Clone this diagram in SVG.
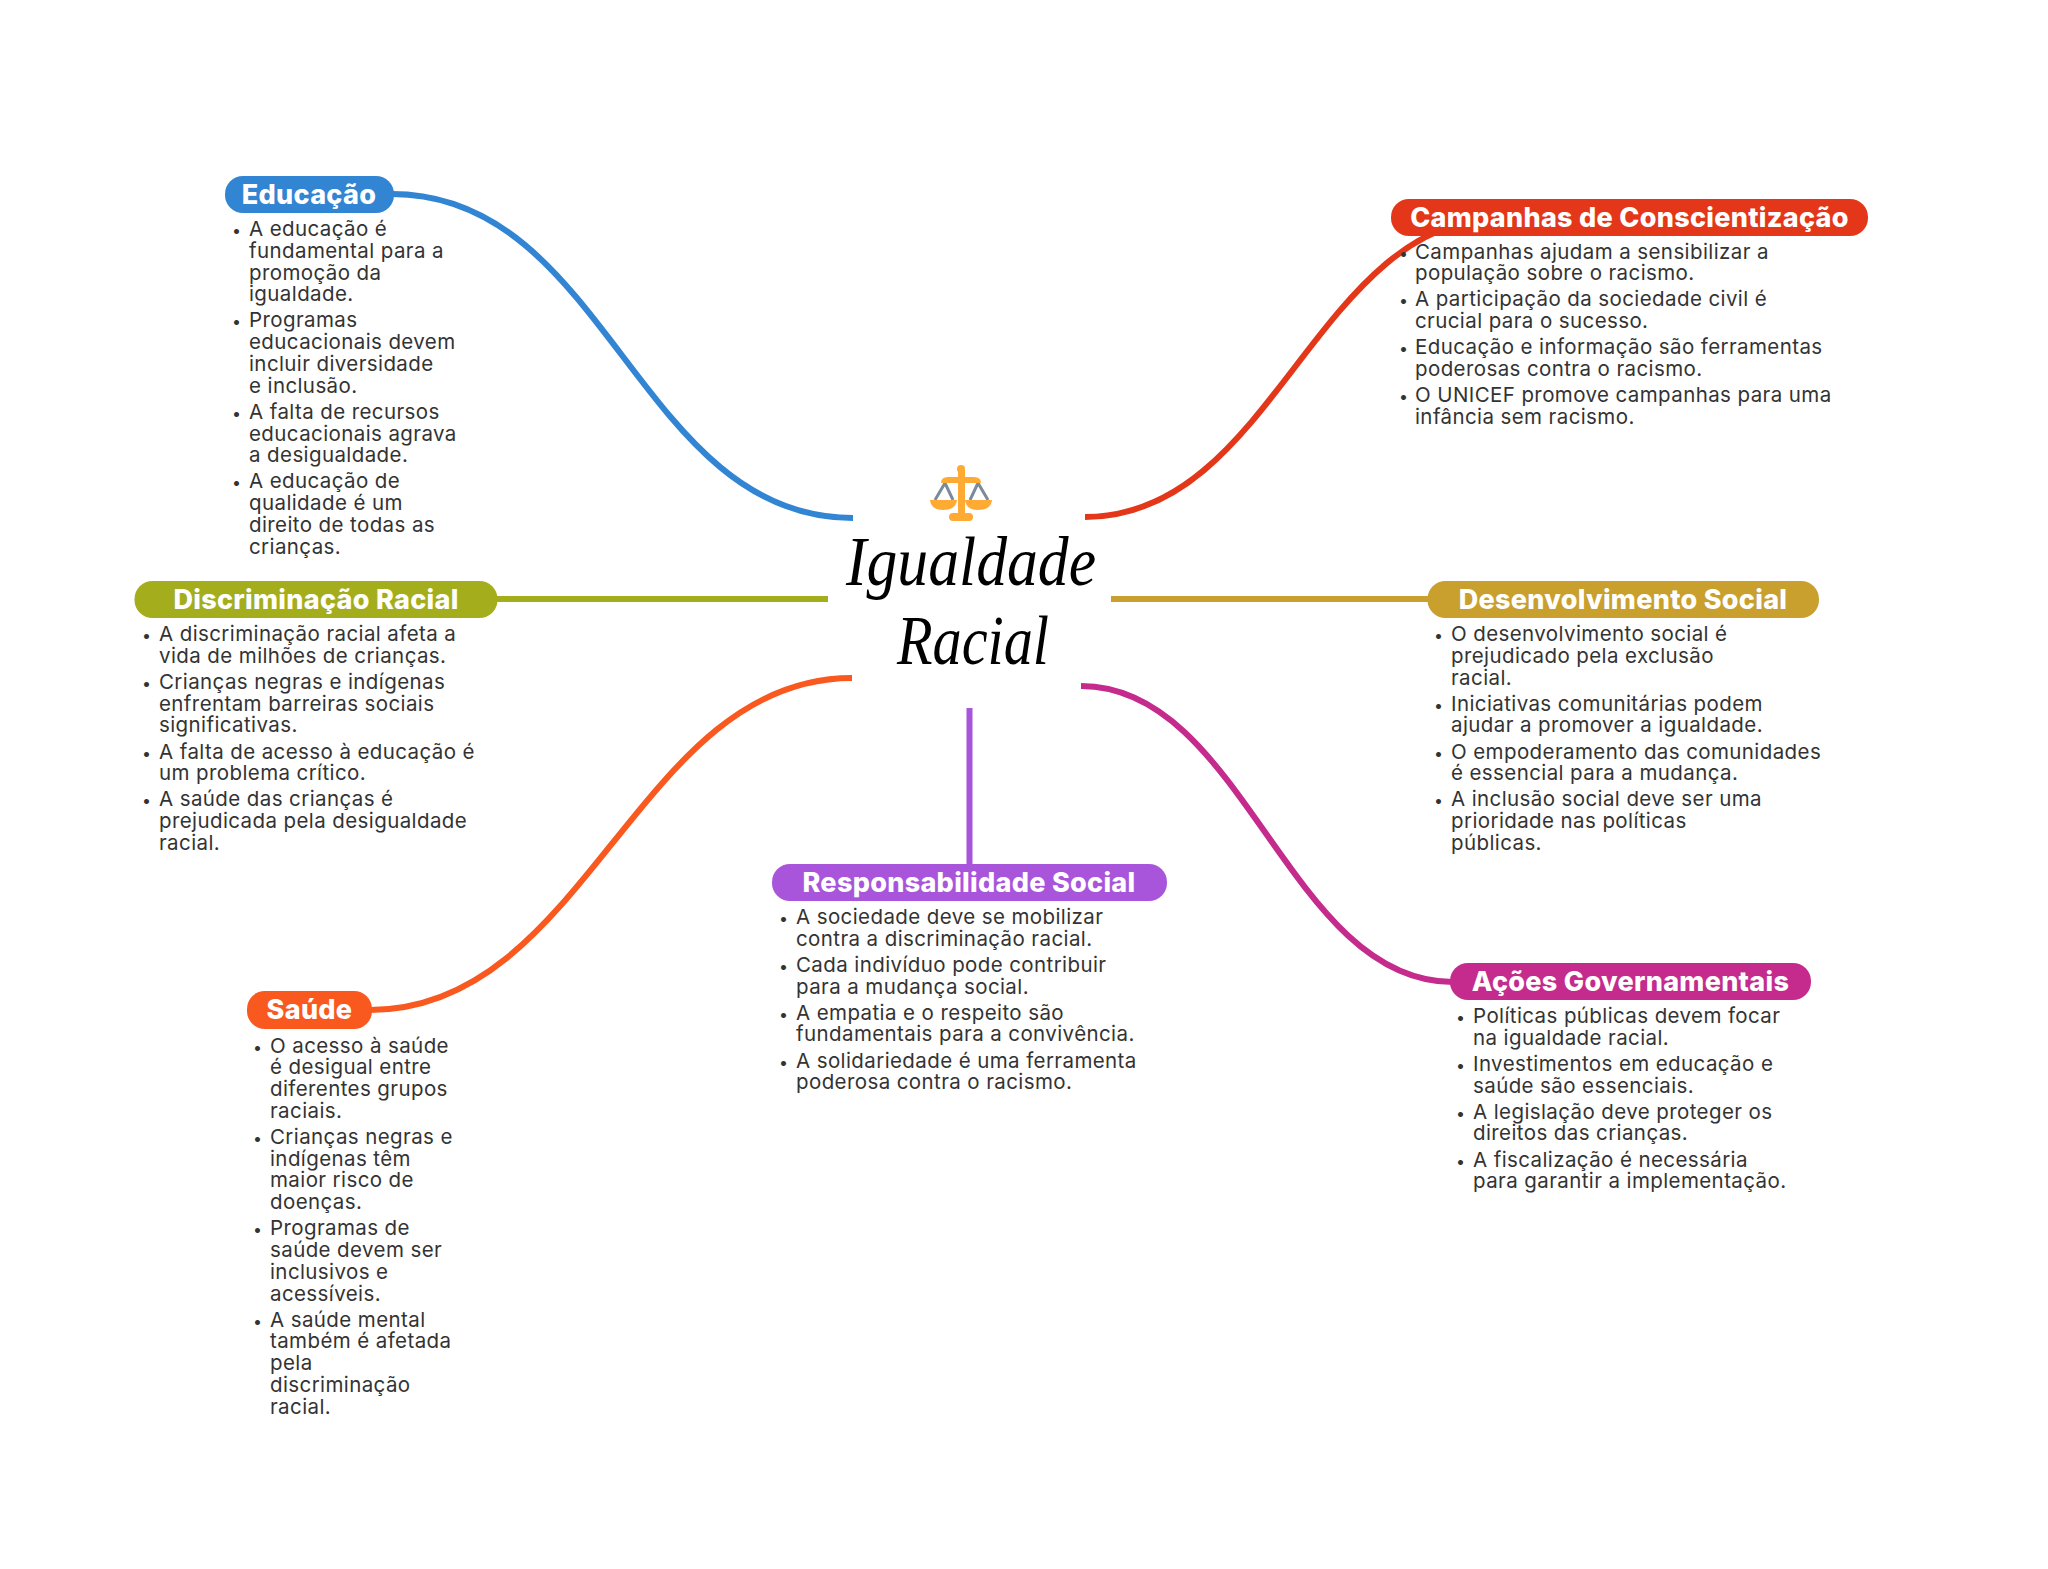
<svg xmlns="http://www.w3.org/2000/svg" width="2048" height="1569" viewBox="0 0 2048 1569">
<style>
.c{fill:none;stroke-width:6}
.t{font-family:"Inter","Noto Sans",sans-serif;font-size:20.500px;letter-spacing:.4px;fill:#333}
.b{font-family:"Inter","Noto Sans",sans-serif;font-size:16px;fill:#333}
.h{font-family:"Inter","Noto Sans",sans-serif;font-size:27px;font-weight:800;letter-spacing:.3px;fill:#fff;text-anchor:middle}
.r{font-family:"Liberation Serif",serif;font-style:italic;font-size:70px;fill:#000;text-anchor:middle}
</style>
<rect width="2048" height="1569" fill="#fff"/>
<g id="connectors">
<path class="c" stroke="#3185d3" d="M392 194C607 194 638 518 853 518"/>
<path class="c" stroke="#e43719" d="M1085 517C1275 517 1315 217 1505 217"/>
<path class="c" stroke="#a4ae1d" d="M495 599H828"/>
<path class="c" stroke="#c9a02e" d="M1111 599H1430"/>
<path class="c" stroke="#f9591f" d="M852 678C637 678 587 1010 370 1010"/>
<path class="c" stroke="#a855dc" d="M969.500 708V866"/>
<path class="c" stroke="#c42b8c" d="M1081 686C1244 686 1288 982 1453 982"/>
</g>
<g id="center">
<text class="r" x="971" y="585" textLength="250" lengthAdjust="spacingAndGlyphs">Igualdade</text>
<text class="r" x="973" y="664" textLength="152" lengthAdjust="spacingAndGlyphs">Racial</text>
<g id="icon">
<g stroke="#7a8b99" stroke-width="3" fill="none"><path d="M935 500L945 483L953 500M970 500L978 483L988 500"/></g>
<g fill="#ffaa33">
<rect x="958" y="470" width="7" height="45"/><circle cx="961" cy="469" r="4"/>
<path d="M941 483Q941 477 948 477H974Q981 477 981 483Z"/>
<path d="M930 500H957Q956 510 943 510Q931 510 930 500Z"/>
<path d="M965 500H992Q991 510 978 510Q966 510 965 500Z"/>
<rect x="949" y="513" width="24" height="8" rx="4"/>
</g></g>
</g>
<g id="educacao">
<rect x="225" y="176" width="169" height="37" rx="18" fill="#3185d3"/><text class="h" x="309" y="204">Educação</text>
<text class="b" x="232" y="236">•</text><text class="t" y="236"><tspan x="249">A educação é</tspan><tspan x="249" dy="21.770">fundamental para a</tspan><tspan x="249" dy="21.770">promoção da</tspan><tspan x="249" dy="21.770">igualdade.</tspan></text>
<text class="b" x="232" y="327.400">•</text><text class="t" y="327.400"><tspan x="249">Programas</tspan><tspan x="249" dy="21.770">educacionais devem</tspan><tspan x="249" dy="21.770">incluir diversidade</tspan><tspan x="249" dy="21.770">e inclusão.</tspan></text>
<text class="b" x="232" y="418.800">•</text><text class="t" y="418.800"><tspan x="249">A falta de recursos</tspan><tspan x="249" dy="21.770">educacionais agrava</tspan><tspan x="249" dy="21.770">a desigualdade.</tspan></text>
<text class="b" x="232" y="488.400">•</text><text class="t" y="488.400"><tspan x="249">A educação de</tspan><tspan x="249" dy="21.770">qualidade é um</tspan><tspan x="249" dy="21.770">direito de todas as</tspan><tspan x="249" dy="21.770">crianças.</tspan></text>
</g>
<g id="campanhas">
<rect x="1391" y="199" width="477" height="37" rx="18" fill="#e43719"/><text class="h" x="1629.500" y="227">Campanhas de Conscientização</text>
<text class="b" x="1399" y="258.500">•</text><text class="t" y="258.500"><tspan x="1415">Campanhas ajudam a sensibilizar a</tspan><tspan x="1415" dy="21.770">população sobre o racismo.</tspan></text>
<text class="b" x="1399" y="306.400">•</text><text class="t" y="306.400"><tspan x="1415">A participação da sociedade civil é</tspan><tspan x="1415" dy="21.770">crucial para o sucesso.</tspan></text>
<text class="b" x="1399" y="354.300">•</text><text class="t" y="354.300"><tspan x="1415">Educação e informação são ferramentas</tspan><tspan x="1415" dy="21.770">poderosas contra o racismo.</tspan></text>
<text class="b" x="1399" y="402.200">•</text><text class="t" y="402.200"><tspan x="1415">O UNICEF promove campanhas para uma</tspan><tspan x="1415" dy="21.770">infância sem racismo.</tspan></text>
</g>
<g id="discriminacao">
<rect x="134.500" y="581" width="363" height="37" rx="18" fill="#a4ae1d"/><text class="h" x="316" y="609">Discriminação Racial</text>
<text class="b" x="142" y="641">•</text><text class="t" y="641"><tspan x="159">A discriminação racial afeta a</tspan><tspan x="159" dy="21.770">vida de milhões de crianças.</tspan></text>
<text class="b" x="142" y="688.900">•</text><text class="t" y="688.900"><tspan x="159">Crianças negras e indígenas</tspan><tspan x="159" dy="21.770">enfrentam barreiras sociais</tspan><tspan x="159" dy="21.770">significativas.</tspan></text>
<text class="b" x="142" y="758.500">•</text><text class="t" y="758.500"><tspan x="159">A falta de acesso à educação é</tspan><tspan x="159" dy="21.770">um problema crítico.</tspan></text>
<text class="b" x="142" y="806.400">•</text><text class="t" y="806.400"><tspan x="159">A saúde das crianças é</tspan><tspan x="159" dy="21.770">prejudicada pela desigualdade</tspan><tspan x="159" dy="21.770">racial.</tspan></text>
</g>
<g id="desenvolvimento">
<rect x="1427.500" y="581" width="391.500" height="37" rx="18" fill="#c9a02e"/><text class="h" x="1623" y="609">Desenvolvimento Social</text>
<text class="b" x="1434" y="641">•</text><text class="t" y="641"><tspan x="1451">O desenvolvimento social é</tspan><tspan x="1451" dy="21.770">prejudicado pela exclusão</tspan><tspan x="1451" dy="21.770">racial.</tspan></text>
<text class="b" x="1434" y="710.600">•</text><text class="t" y="710.600"><tspan x="1451">Iniciativas comunitárias podem</tspan><tspan x="1451" dy="21.770">ajudar a promover a igualdade.</tspan></text>
<text class="b" x="1434" y="758.500">•</text><text class="t" y="758.500"><tspan x="1451">O empoderamento das comunidades</tspan><tspan x="1451" dy="21.770">é essencial para a mudança.</tspan></text>
<text class="b" x="1434" y="806.400">•</text><text class="t" y="806.400"><tspan x="1451">A inclusão social deve ser uma</tspan><tspan x="1451" dy="21.770">prioridade nas políticas</tspan><tspan x="1451" dy="21.770">públicas.</tspan></text>
</g>
<g id="responsabilidade">
<rect x="772" y="864" width="395" height="37" rx="18" fill="#a855dc"/><text class="h" x="969" y="892">Responsabilidade Social</text>
<text class="b" x="779" y="924">•</text><text class="t" y="924"><tspan x="796">A sociedade deve se mobilizar</tspan><tspan x="796" dy="21.770">contra a discriminação racial.</tspan></text>
<text class="b" x="779" y="971.900">•</text><text class="t" y="971.900"><tspan x="796">Cada indivíduo pode contribuir</tspan><tspan x="796" dy="21.770">para a mudança social.</tspan></text>
<text class="b" x="779" y="1019.700">•</text><text class="t" y="1019.700"><tspan x="796">A empatia e o respeito são</tspan><tspan x="796" dy="21.770">fundamentais para a convivência.</tspan></text>
<text class="b" x="779" y="1067.600">•</text><text class="t" y="1067.600"><tspan x="796">A solidariedade é uma ferramenta</tspan><tspan x="796" dy="21.770">poderosa contra o racismo.</tspan></text>
</g>
<g id="saude">
<rect x="247" y="991" width="125" height="38" rx="18" fill="#f9591f"/><text class="h" x="309.500" y="1019">Saúde</text>
<text class="b" x="253" y="1052.500">•</text><text class="t" y="1052.500"><tspan x="270">O acesso à saúde</tspan><tspan x="270" dy="21.770">é desigual entre</tspan><tspan x="270" dy="21.770">diferentes grupos</tspan><tspan x="270" dy="21.770">raciais.</tspan></text>
<text class="b" x="253" y="1143.900">•</text><text class="t" y="1143.900"><tspan x="270">Crianças negras e</tspan><tspan x="270" dy="21.770">indígenas têm</tspan><tspan x="270" dy="21.770">maior risco de</tspan><tspan x="270" dy="21.770">doenças.</tspan></text>
<text class="b" x="253" y="1235.300">•</text><text class="t" y="1235.300"><tspan x="270">Programas de</tspan><tspan x="270" dy="21.770">saúde devem ser</tspan><tspan x="270" dy="21.770">inclusivos e</tspan><tspan x="270" dy="21.770">acessíveis.</tspan></text>
<text class="b" x="253" y="1326.700">•</text><text class="t" y="1326.700"><tspan x="270">A saúde mental</tspan><tspan x="270" dy="21.770">também é afetada</tspan><tspan x="270" dy="21.770">pela</tspan><tspan x="270" dy="21.770">discriminação</tspan><tspan x="270" dy="21.770">racial.</tspan></text>
</g>
<g id="acoes">
<rect x="1450" y="963" width="361" height="37" rx="18" fill="#c42b8c"/><text class="h" x="1630.500" y="991">Ações Governamentais</text>
<text class="b" x="1456" y="1023">•</text><text class="t" y="1023"><tspan x="1473">Políticas públicas devem focar</tspan><tspan x="1473" dy="21.770">na igualdade racial.</tspan></text>
<text class="b" x="1456" y="1070.900">•</text><text class="t" y="1070.900"><tspan x="1473">Investimentos em educação e</tspan><tspan x="1473" dy="21.770">saúde são essenciais.</tspan></text>
<text class="b" x="1456" y="1118.700">•</text><text class="t" y="1118.700"><tspan x="1473">A legislação deve proteger os</tspan><tspan x="1473" dy="21.770">direitos das crianças.</tspan></text>
<text class="b" x="1456" y="1166.600">•</text><text class="t" y="1166.600"><tspan x="1473">A fiscalização é necessária</tspan><tspan x="1473" dy="21.770">para garantir a implementação.</tspan></text>
</g>
</svg>
